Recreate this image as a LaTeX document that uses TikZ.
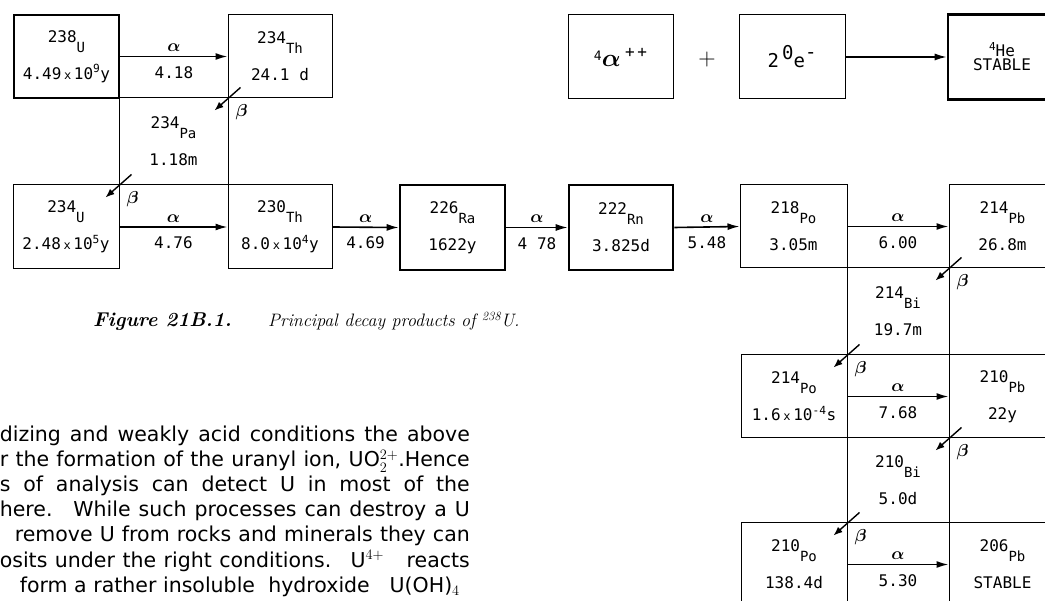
\documentclass[tikz,border=0pt]{standalone}
\usepackage{fontspec}
\setmonofont{DejaVu Sans Mono}
\setsansfont{DejaVu Sans}
\usetikzlibrary{arrows.meta}
\newcommand{\nuc}[2]{#1\raisebox{-10pt}[0pt][0pt]{\fontsize{14}{14}\selectfont #2}}
\newcommand{\tms}{\,{\fontsize{12}{12}\selectfont x}\,}

\begin{document}
\begin{tikzpicture}
[x=1pt,y=-1pt,
  boxdecorate/.style={shape=rectangle,draw,line width=1pt,inner sep=0pt,align=center,
    font=\ttfamily\fontsize{16}{18}\selectfont},%
  heavydecorate/.style={boxdecorate,line width=2.6pt},%
  alphadecorate/.style={-{Latex[length=12pt,width=7pt]},line width=1.6pt},%
  betadecorate/.style={-{Latex[length=9pt,width=7pt]},line width=1.4pt},%
  alphalabel/.style={inner sep=1pt,font=\fontsize{17}{17}\selectfont\boldmath},%
  energylabel/.style={inner sep=1pt,font=\ttfamily\fontsize{16}{18}\selectfont},%
  betalabel/.style={inner sep=0pt,font=\fontsize{19}{19}\selectfont\boldmath},%
  textdecorate/.style={inner sep=0pt,anchor=base east,font=\sffamily\fontsize{20.5}{24}\selectfont}]
\useasboundingbox (0,0) rectangle (1045,601);
\clip (0,0) rectangle (1045,601);
%% boxes of the chain
\foreach \nodename/\kind/\xa/\ya/\xb/\yb/\mass/\sym/\life in {
  U238/heavydecorate/14/15/119/98/238/U/{4.49\tms 10\textsuperscript{9}y},
  Th234/boxdecorate/228/15/332/98/234/Th/{24.1 d},
  Pa234/boxdecorate/119/98/228/185/234/Pa/{1.18m},
  U234/boxdecorate/13/185/119/269/234/U/{2.48\tms 10\textsuperscript{5}y},
  Th230/boxdecorate/228/185/332/269/230/Th/{8.0\tms 10\textsuperscript{4}y},
  Ra226/heavydecorate/400/185/505/270/226/Ra/{1622y},
  Rn222/heavydecorate/569/185/673/270/222/Rn/{3.825d},
  Po218/boxdecorate/740/185/847/268/218/Po/{3.05m},
  Pb214/boxdecorate/949/185/1056/268/214/Pb/{26.8m},
  Bi214/boxdecorate/847/268/949/355/214/Bi/{19.7m},
  Po214/boxdecorate/741/355/847/438/214/Po/{1.6\tms 10\textsuperscript{-4}s},
  Pb210/boxdecorate/949/355/1056/438/210/Pb/{22y},
  Bi210/boxdecorate/847/438/949/523/210/Bi/{5.0d},
  Po210/boxdecorate/741/523/847/606/210/Po/{138.4d},
  Pb206/boxdecorate/949/523/1056/606/206/Pb/{STABLE}} {
  \node (\nodename) at ({(\xa+\xb)/2},{(\ya+\yb)/2})
    [\kind,minimum width={(\xb-\xa)*1pt},minimum height={(\yb-\ya)*1pt}]
    {\nuc{\mass}{\sym}\\[19pt]\life};
}
%% helium line
\node (alphaion) at (620.5,57) [boxdecorate,minimum width=105pt,minimum height=84pt]
  {\raisebox{6pt}{\fontsize{13}{13}\selectfont 4}{\fontsize{23}{23}\selectfont\boldmath$\alpha$}\;\raisebox{9pt}{+\,+}};
\node (plus) at (707,60) [font=\fontsize{24}{24}\selectfont] {+};
\node (electrons) at (792,57) [boxdecorate,minimum width=106pt,minimum height=84pt,
  font=\ttfamily\fontsize{19}{19}\selectfont] {2\,\raisebox{8pt}{0}e\raisebox{9pt}{-}};
\node (He4) at (1002,57) [heavydecorate,minimum width=108pt,minimum height=85pt]
  {\raisebox{6pt}{\fontsize{11}{11}\selectfont 4}He\\[-4pt]STABLE};
%% alpha decays
\path
\foreach \startnode/\endnode/\energy in {U238/Th234/4.18, U234/Th230/4.76, Th230/Ra226/4.69,
  Ra226/Rn222/4 78, Rn222/Po218/5.48, Po218/Pb214/6.00, Po214/Pb210/7.68, Po210/Pb206/5.30} {
  (\startnode.east) edge[alphadecorate]
    node (alpha\startnode) [alphalabel,above=3pt] {$\alpha$}
    node (energy\startnode) [energylabel,below=8pt] {\energy} (\endnode.west)
};
\path (electrons.east) edge[alphadecorate] (He4.west);
%% beta decays
\path
\foreach \startnode/\endnode in {Th234/Pa234, Pa234/U234, Pb214/Bi214,
  Bi214/Po214, Pb210/Bi210, Bi210/Po210} {
  ([shift={(13,-11)}]\startnode.south west) edge[betadecorate] ([shift={(-14,13)}]\endnode.north east)
};
\foreach \endnode in {Pa234, U234, Bi214, Po214, Bi210, Po210} {
  \node (beta\endnode) at ([shift={(13,15)}]\endnode.north east) [betalabel] {$\beta$};
}
%% caption
\node (figlabel) at (93,327) [anchor=base west,inner sep=0pt,
  font=\fontsize{20}{20}\selectfont\bfseries\itshape] {Figure 21B.1.};
\node (figtitle) at (268,327) [anchor=base west,inner sep=0pt,
  font=\fontsize{18}{18}\selectfont\itshape] {Principal decay products of \textsuperscript{238}U.};
%% running text
\foreach \linename/\xe/\ye/\spanwd/\words in {
  line1/470/442/470/{dizing and weakly acid conditions the above},
  line2/470/467/470/{r the formation of the uranyl ion, \smash{UO$_2^{2+}$}.Hence},
  line3/470/492/470/{s of analysis can detect U in most of the},
  line4/470/517/470/{here. ~While such processes can destroy a U},
  line5/470/542/455/{remove U from rocks and minerals they can},
  line6/470/567/470/{osits under the right conditions. ~U$^{4+}$~~ reacts},
  line7/460/592/440/{form a rather insoluble ~hydroxide ~~U(OH)$_4$}} {
  \node (\linename) at (\xe,\ye) [textdecorate] {\makebox[\spanwd pt][s]{\words}};
}
\end{tikzpicture}
\end{document}
